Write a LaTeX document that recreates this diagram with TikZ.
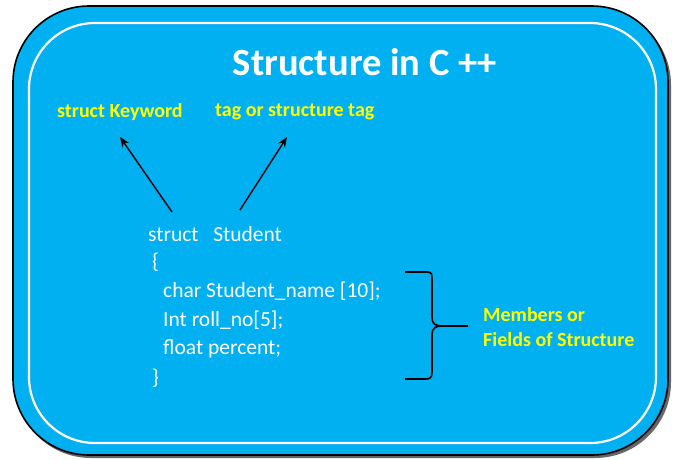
\documentclass[tikz,border=0pt]{standalone}
\usepackage{fontspec}
\setmainfont{Carlito}
\usetikzlibrary{arrows.meta}
\definecolor{bgblue}{HTML}{00B0F0}
\definecolor{ylw}{HTML}{FFFF00}
\begin{document}
\begin{tikzpicture}[x=1pt,y=-1pt,
  lbl/.style={text=ylw,font=\bfseries\fontsize{20}{22}\selectfont,inner sep=0pt,anchor=west},
  code/.style={text=white,font=\fontsize{21.5}{24}\selectfont,inner sep=0pt,anchor=west},
  arr/.style={-{Stealth[length=10pt,width=8pt]},line width=1.4pt,black}]
\useasboundingbox (0,0) rectangle (675,459);
\fill[white] (0,0) rectangle (675,459);
\fill[black!60,rounded corners=76pt] (15,9) rectangle (671,458);
\draw[line width=1.6pt,fill=bgblue,rounded corners=76pt] (13,6) rectangle (668,455);
\draw[white,line width=2.2pt,rounded corners=66pt] (29,23) rectangle (656,443);
\node[text=white,font=\bfseries\fontsize{38.5}{42}\selectfont,inner sep=0pt] (title) at (365,62) {Structure in C ++};
\node[lbl] (kw) at (57,112) {struct Keyword};
\node[lbl] (tag) at (215,112) {tag or structure tag};
\node[code] (l1) at (148,234) {struct\hspace{0.68em}Student};
\node[code] (l2) at (152,262) {\{};
\node[code] (l3) at (163,291) {char Student\_name [10];};
\node[code] (l4) at (163,320) {Int roll\_no[5];};
\node[code] (l5) at (163,349) {float percent;};
\node[code] (l6) at (152,378) {\}};
\coordinate (a1s) at (172,212);
\coordinate (a1e) at (120,137);
\coordinate (a2s) at (240,210);
\coordinate (a2e) at (287,137);
\draw[arr] (a1s) -- (a1e);
\draw[arr] (a2s) -- (a2e);
\coordinate (btop) at (405,272);
\coordinate (bmid) at (468,326);
\coordinate (bbot) at (405,379);
\draw[line width=1.6pt,line join=round] (btop) -- (427,272) .. controls (432,272) and (432,274) .. (432,280)
  -- (432,318) .. controls (432,324) and (436,326) .. (442,326) -- (bmid)
  (442,326) .. controls (436,326) and (432,328) .. (432,334)
  -- (432,372) .. controls (432,378) and (430,379) .. (425,379) -- (bbot);
\node[lbl] (m1) at (483,315) {Members or};
\node[lbl] (m2) at (483,340) {Fields of Structure};
\end{tikzpicture}
\end{document}
